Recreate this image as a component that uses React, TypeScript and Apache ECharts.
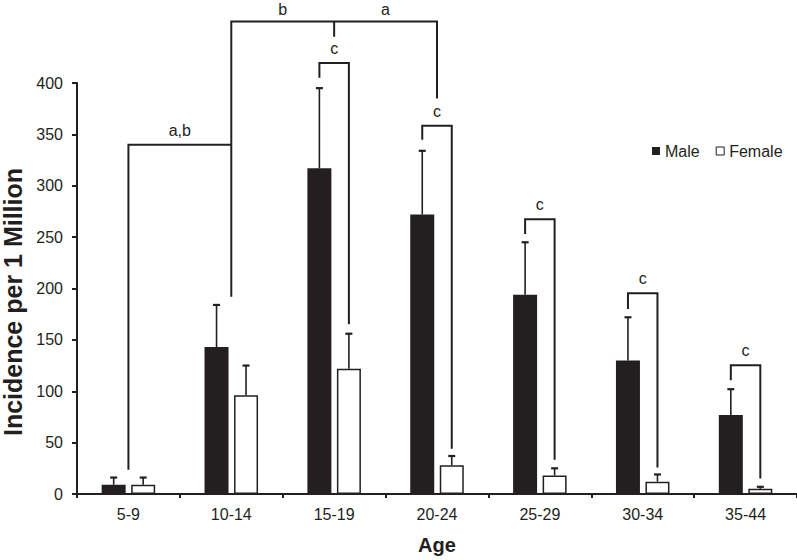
import React, { useEffect, useRef } from "react";
import * as echarts from "echarts";

const categories = ["5-9", "10-14", "15-19", "20-24", "25-29", "30-34", "35-44"];
const maleValues = [9, 143, 317, 272, 194, 130, 77];
const maleUpper = [16, 184, 395, 334, 245, 172, 102];
const femaleValues = [9, 96, 122, 28, 18, 12, 5];
const femaleUpper = [16, 125, 156, 37, 25, 19, 7];
const yTicks = [0, 50, 100, 150, 200, 250, 300, 350, 400];

// within-group significance brackets (male vs female)
const pairCats = [2, 3, 4, 5, 6];
const pairTop = [419.5, 358.5, 267.5, 195.3, 125.4];
const pairMaleEnd = [405.2, 344.7, 253, 180, 110.6];
const pairFemaleEnd = [165.3, 44, 33.4, 25.7, 15];
const pairLabels = ["c", "c", "c", "c", "c"];

// between-group brackets
const bigBracket = { left: 1, mid: 2, right: 3, top: 459.8, leftEnd: 192, midEnd: 445, rightEnd: 385 };
const bigLabels = ["b", "a"];
const abBracket = { left: 0, right: 1, top: 339.9, leftEnd: 23.7 };
const abLabel = "a,b";

const FONT = '"Liberation Sans", Arial, Helvetica, sans-serif';
const INK = "#231f20";
const BAR_W = 24;
const HALF_PAIR = 14.75;
const LABEL_LIFT = 14.6;
const TOP_LABEL_LIFT = 12.2;

function txt(text: string, x: number, y: number) {
  return {
    type: "text",
    style: { text, x, y, align: "center", verticalAlign: "middle", fontSize: 16, fontFamily: FONT, fill: INK },
  };
}
function pl(points: number[][]) {
  return { type: "polyline", shape: { points }, style: { stroke: INK, lineWidth: 2, fill: "none" } };
}

function errorSeries(name: string, vals: number[], upper: number[], sign: number) {
  return {
    type: "custom",
    name,
    clip: false,
    z: 5,
    encode: { x: 0, y: [1, 2] },
    data: vals.map((v, i) => [i, v, upper[i]]),
    renderItem: (_p: any, api: any) => {
      const b = api.coord([api.value(0), api.value(1)]);
      const t = api.coord([api.value(0), api.value(2)]);
      const x = b[0] + sign * HALF_PAIR;
      return {
        type: "group",
        children: [
          { type: "line", shape: { x1: x, y1: b[1], x2: x, y2: t[1] }, style: { stroke: INK, lineWidth: 1.6 } },
          { type: "line", shape: { x1: x - 3.5, y1: t[1], x2: x + 3.5, y2: t[1] }, style: { stroke: INK, lineWidth: 2.2 } },
        ],
      };
    },
  };
}

export default function App() {
  const ref = useRef<HTMLDivElement>(null);
  useEffect(() => {
    if (!ref.current) return;
    const chart = echarts.init(ref.current, null, { renderer: "svg" });
    chart.setOption({
      animation: false,
      backgroundColor: "#ffffff",
      textStyle: { fontFamily: FONT },
      grid: { left: 77, right: 0, top: 83, bottom: 63, containLabel: false },
      graphic: [
        {
          type: "text",
          x: 13,
          y: 302,
          rotation: Math.PI / 2,
          style: {
            text: "Incidence per 1 Million",
            align: "center",
            verticalAlign: "middle",
            fontSize: 25,
            fontWeight: "bold",
            fontFamily: FONT,
            fill: INK,
          },
        },
      ],
      legend: {
        left: 647,
        top: 138,
        itemWidth: 8,
        itemHeight: 8,
        itemGap: 16,
        textStyle: { fontSize: 16, color: INK, fontFamily: FONT },
        data: [
          { name: "Male", icon: "rect", itemStyle: { color: INK } },
          { name: "Female", icon: "rect", itemStyle: { color: "#fff", borderColor: INK, borderWidth: 1 } },
        ],
      },
      xAxis: {
        type: "category",
        data: categories,
        name: "Age",
        nameLocation: "middle",
        nameGap: 41,
        nameTextStyle: { fontSize: 20, fontWeight: "bold", color: INK, fontFamily: FONT },
        axisLine: { lineStyle: { color: INK, width: 2 } },
        axisTick: { show: true, length: 4, lineStyle: { color: INK, width: 2 }, alignWithLabel: false },
        axisLabel: { fontSize: 16, color: INK, margin: 12, fontFamily: FONT },
      },
      yAxis: {
        type: "value",
        min: yTicks[0],
        max: yTicks[yTicks.length - 1],
        interval: yTicks[1] - yTicks[0],
        splitLine: { show: false },
        axisLine: { show: true, lineStyle: { color: INK, width: 2 } },
        axisTick: { show: true, length: 5, lineStyle: { color: INK, width: 2 } },
        axisLabel: { fontSize: 16, color: INK, margin: 14, fontFamily: FONT },
      },
      series: [
        {
          type: "bar",
          name: "Male",
          data: maleValues,
          barWidth: BAR_W,
          barGap: "23%",
          itemStyle: { color: INK },
        },
        {
          type: "bar",
          name: "Female",
          data: femaleValues,
          barWidth: BAR_W,
          itemStyle: { color: "#fff", borderColor: INK, borderWidth: 1.5 },
        },
        errorSeries("MaleErr", maleValues, maleUpper, -1),
        errorSeries("FemaleErr", femaleValues, femaleUpper, 1),
        {
          type: "custom",
          name: "pairs",
          clip: false,
          z: 6,
          encode: { x: 0, y: [1, 2, 3] },
          data: pairCats.map((c, i) => [c, pairTop[i], pairMaleEnd[i], pairFemaleEnd[i], i]),
          renderItem: (_p: any, api: any) => {
            const c = api.value(0);
            const t = api.coord([c, api.value(1)]);
            const l = api.coord([c, api.value(2)]);
            const r = api.coord([c, api.value(3)]);
            const xl = t[0] - HALF_PAIR;
            const xr = t[0] + HALF_PAIR;
            return {
              type: "group",
              children: [
                pl([[xl, l[1]], [xl, t[1]], [xr, t[1]], [xr, r[1]]]),
                txt(pairLabels[api.value(4)], t[0], t[1] - LABEL_LIFT),
              ],
            };
          },
        },
        {
          type: "custom",
          name: "groups",
          clip: false,
          z: 6,
          data: [[0, 0]],
          renderItem: (_p: any, api: any) => {
            const bl = api.coord([bigBracket.left, bigBracket.top]);
            const br = api.coord([bigBracket.right, bigBracket.top]);
            const bm = api.coord([bigBracket.mid, bigBracket.top]);
            const blEnd = api.coord([bigBracket.left, bigBracket.leftEnd]);
            const brEnd = api.coord([bigBracket.right, bigBracket.rightEnd]);
            const bmEnd = api.coord([bigBracket.mid, bigBracket.midEnd]);
            const al = api.coord([abBracket.left, abBracket.top]);
            const ar = api.coord([abBracket.right, abBracket.top]);
            const alEnd = api.coord([abBracket.left, abBracket.leftEnd]);
            return {
              type: "group",
              children: [
                pl([[blEnd[0], blEnd[1]], [bl[0], bl[1]], [br[0], br[1]], [brEnd[0], brEnd[1]]]),
                pl([[bm[0], bm[1]], [bmEnd[0], bmEnd[1]]]),
                txt(bigLabels[0], (bl[0] + bm[0]) / 2, bl[1] - TOP_LABEL_LIFT),
                txt(bigLabels[1], (bm[0] + br[0]) / 2, bl[1] - TOP_LABEL_LIFT),
                pl([[alEnd[0], alEnd[1]], [al[0], al[1]], [ar[0], ar[1]]]),
                txt(abLabel, (al[0] + ar[0]) / 2, al[1] - LABEL_LIFT),
              ],
            };
          },
        },
      ],
    });
    return () => chart.dispose();
  }, []);
  return <div ref={ref} style={{ width: 797, height: 560, position: "absolute", left: 0, top: 0 }} />;
}
